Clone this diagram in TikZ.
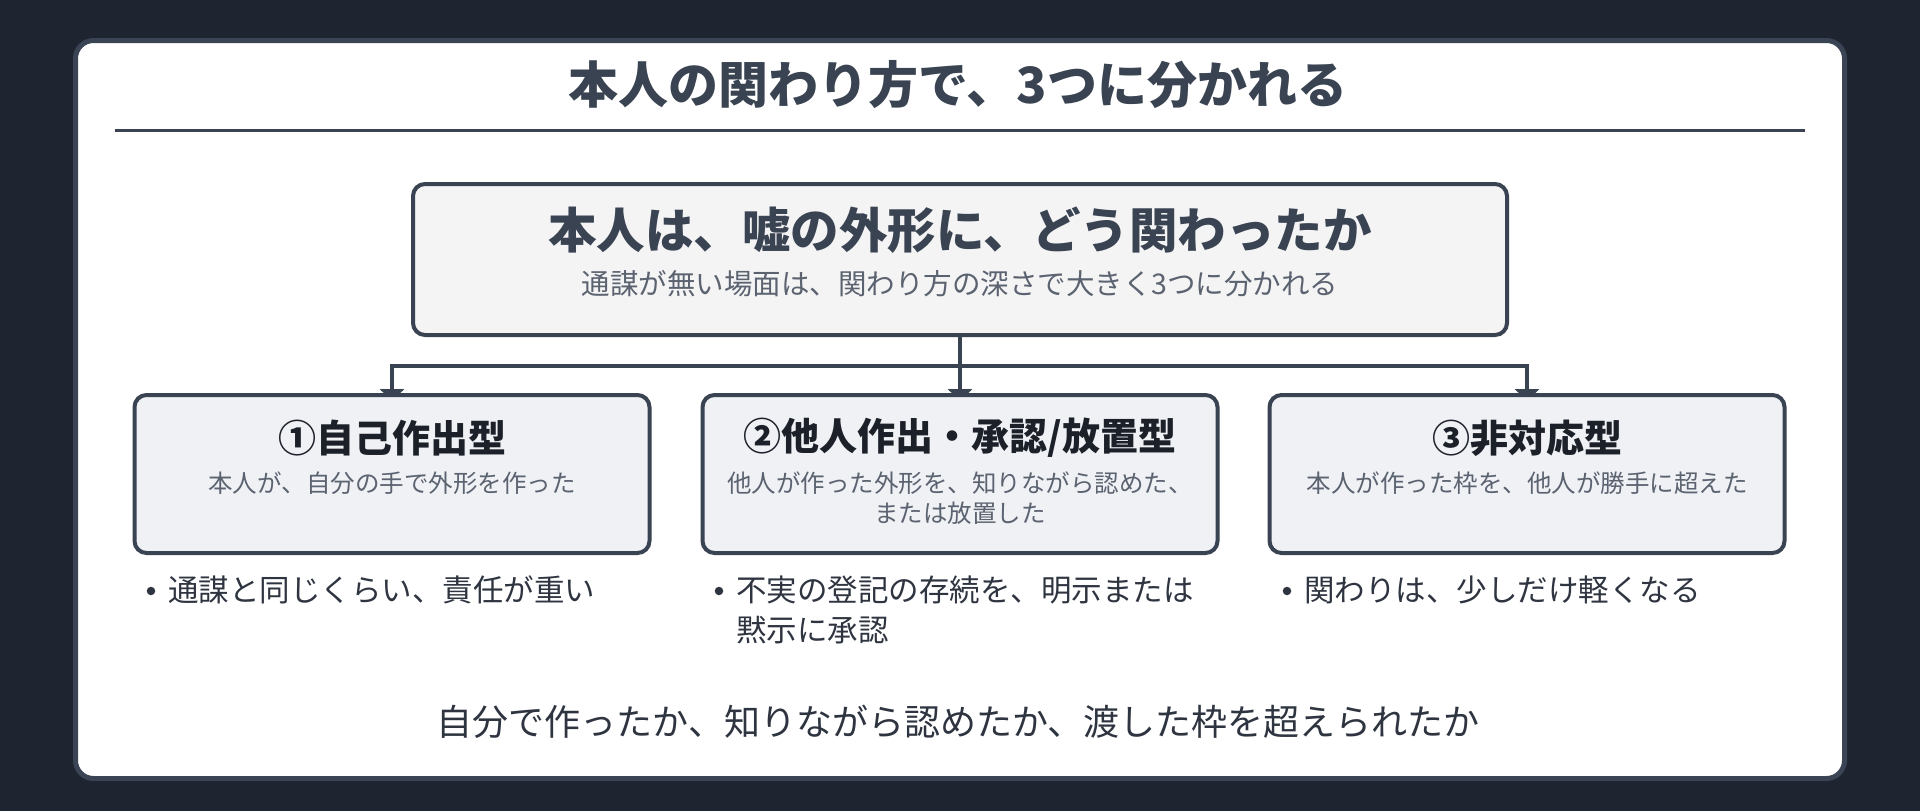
\documentclass[tikz,border=0pt]{standalone}
\usepackage{fontspec}
\newfontfamily\jp{Noto Sans CJK JP}
\usetikzlibrary{arrows.meta}
\definecolor{bgc}{HTML}{1E2430}
\definecolor{cardline}{HTML}{3A4454}
\definecolor{ink}{HTML}{3A4352}
\definecolor{headc}{HTML}{1C2029}
\definecolor{subc}{HTML}{5C6370}
\definecolor{bodyc}{HTML}{2E3440}
\definecolor{mainfill}{HTML}{F4F4F5}
\definecolor{boxfill}{HTML}{EFF1F5}
\pgfdeclarelayer{cardlayer}
\pgfdeclarelayer{linklayer}
\pgfsetlayers{cardlayer,linklayer,main}
\begin{document}
\begin{tikzpicture}[x=1pt,y=1pt,
  titletext/.style={inner sep=0pt,text=ink,font={\jp\bfseries\fontsize{50}{60}\selectfont}},
  mainbox/.style={draw=ink,line width=4pt,fill=mainfill,rounded corners=12pt,minimum width=1094pt,minimum height=151pt,inner sep=0pt},
  mainhead/.style={inner sep=0pt,text=ink,font={\jp\bfseries\fontsize{48.5}{58}\selectfont}},
  mainsub/.style={inner sep=0pt,text=subc,font={\jp\fontsize{28.5}{34}\selectfont}},
  typebox/.style={draw=ink,line width=4pt,fill=boxfill,rounded corners=12pt,minimum width=515pt,minimum height=158pt,inner sep=0pt},
  typehead/.style={inner sep=0pt,text=headc,font={\jp\bfseries\fontsize{38}{46}\selectfont}},
  typesub/.style={inner sep=0pt,text=subc,align=center,font={\jp\fontsize{24.5}{30}\selectfont}},
  dot/.style={circle,fill=bodyc,inner sep=0pt,minimum size=8.5pt},
  bullettext/.style={inner sep=0pt,anchor=west,text=bodyc,font={\jp\fontsize{30.5}{40}\selectfont}},
  closing/.style={inner sep=0pt,text=bodyc,font={\jp\fontsize{36}{44}\selectfont}},
  link/.style={draw=ink,line width=4pt},
  tip/.style={-{Triangle[width=24pt,length=12pt]}}
]
\useasboundingbox (0,0) rectangle (1920,-811);
\begin{pgfonlayer}{cardlayer}
  \fill[bgc] (0,0) rectangle (1920,-811);
  \draw[cardline,line width=5pt,fill=white,rounded corners=18pt] (75.5,-40.5) rectangle (1844.5,-778.5);
\end{pgfonlayer}

\node[titletext] (title) at (958,-85) {本人の関わり方で、3つに分かれる};
\draw[ink,line width=3pt] (115,-130) -- (1805,-130);

\node[mainbox] (main) at (960,-259.5) {};
\node[mainhead] (mainh) at (960,-230) {本人は、嘘の外形に、どう関わったか};
\node[mainsub] (mains) at (960,-284) {通謀が無い場面は、関わり方の深さで大きく3つに分かれる};

\node[typebox] (b1) at (392,-474) {};
\node[typebox] (b2) at (960,-474) {};
\node[typebox] (b3) at (1527,-474) {};

\node[typehead] (h1) at (392,-438) {①自己作出型};
\node[typehead] (h2) at (960,-438) {②他人作出・承認/放置型};
\node[typehead] (h3) at (1527,-438) {③非対応型};

\node[typesub] (s1) at (392,-483) {本人が、自分の手で外形を作った};
\node[typesub] (s2) at (960,-498) {他人が作った外形を、知りながら認めた、\\または放置した};
\node[typesub] (s3) at (1527,-483) {本人が作った枠を、他人が勝手に超えた};

\node[dot] (d1) at (151,-591) {};
\node[bullettext] (t1) at (168,-590) {通謀と同じくらい、責任が重い};
\node[dot] (d2) at (719,-591) {};
\node[bullettext] (t2a) at (736,-590) {不実の登記の存続を、明示または};
\node[bullettext] (t2b) at (736,-630) {黙示に承認};
\node[dot] (d3) at (1287,-591) {};
\node[bullettext] (t3) at (1304,-590) {関わりは、少しだけ軽くなる};

\node[closing] (close) at (958,-722) {自分で作ったか、知りながら認めたか、渡した枠を超えられたか};

\coordinate (j) at (960,-366);
\begin{pgfonlayer}{linklayer}
  \draw[link] (main.south) -- (j);
  \draw[link,tip] (j) -| ([yshift=-8pt]b1.north);
  \draw[link,tip] (j) -- ([yshift=-8pt]b2.north);
  \draw[link,tip] (j) -| ([yshift=-8pt]b3.north);
\end{pgfonlayer}
\end{tikzpicture}
\end{document}
